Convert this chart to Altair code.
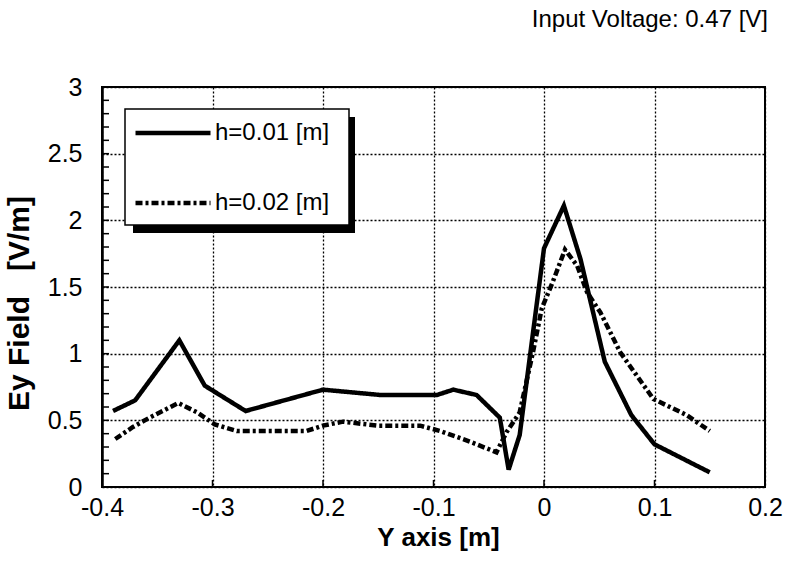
import altair as alt
import pandas as pd

series_names = ["h=0.01 [m]", "h=0.02 [m]"]

x_h001 = [-0.39, -0.37, -0.33, -0.307, -0.27, -0.2, -0.148, -0.097, -0.082, -0.061,
          -0.04, -0.032, -0.022, 0.0, 0.018, 0.033, 0.055, 0.079, 0.1, 0.15]
y_h001 = [0.57, 0.65, 1.10, 0.76, 0.57, 0.73, 0.69, 0.69, 0.73, 0.69,
          0.52, 0.13, 0.39, 1.79, 2.11, 1.71, 0.94, 0.54, 0.32, 0.11]

x_h002 = [-0.388, -0.372, -0.357, -0.331, -0.314, -0.298, -0.278, -0.215, -0.2, -0.182,
          -0.15, -0.112, -0.094, -0.067, -0.043, -0.034, -0.022, -0.01, -0.002, 0.008,
          0.019, 0.03, 0.039, 0.051, 0.069, 0.099, 0.129, 0.15]
y_h002 = [0.36, 0.45, 0.52, 0.63, 0.56, 0.47, 0.42, 0.42, 0.46, 0.49,
          0.46, 0.46, 0.42, 0.34, 0.26, 0.41, 0.56, 1.01, 1.34, 1.54,
          1.78, 1.66, 1.46, 1.31, 1.01, 0.66, 0.54, 0.42]

x_ticks = [-0.4, -0.3, -0.2, -0.1, 0.0, 0.1, 0.2]
y_ticks = [0, 0.5, 1, 1.5, 2, 2.5, 3]
x_minor = [-0.3, -0.2, -0.1, 0.0, 0.1]
y_minor = [0.1, 0.2, 0.3, 0.4, 0.5, 0.6, 0.7, 0.8, 0.9, 1.0,
           1.1, 1.2, 1.3, 1.4, 1.5, 1.6, 1.7, 1.8, 1.9, 2.0,
           2.1, 2.2, 2.3, 2.4, 2.5, 2.6, 2.7, 2.8, 2.9]

df = pd.concat([
    pd.DataFrame({"x": x_h001, "y": y_h001, "series": series_names[0]}),
    pd.DataFrame({"x": x_h002, "y": y_h002, "series": series_names[1]}),
])

FONT = "Liberation Sans"
xscale = alt.Scale(domain=[-0.4, 0.2], nice=False, zero=False)
yscale = alt.Scale(domain=[0, 3], nice=False)

x_axis = alt.Axis(values=x_ticks, title="Y axis [m]",
                  labelExpr="replace(format(datum.value, '.1~f'), '\u2212', '-')",
                  labelFlush=False, labelPadding=8, titleFontSize=26,
                  titleX=336, titleY=37, domain=False)
y_axis = alt.Axis(values=y_ticks, title="Ey Field\u00a0\u00a0\u00a0[V/m]", format=".1~f",
                  labelPadding=20, labelFlush=False, titleFontSize=30,
                  titleX=-68, titleY=216, domain=True, domainWidth=2.5, domainColor="black")

legend = alt.Legend(title=None)

lines = alt.Chart(df).mark_line(strokeWidth=4.5, strokeCap="butt").encode(
    x=alt.X("x:Q", scale=xscale, axis=x_axis),
    y=alt.Y("y:Q", scale=yscale, axis=y_axis),
    color=alt.Color("series:N",
                    scale=alt.Scale(domain=series_names, range=["black", "black"]),
                    legend=legend),
    strokeDash=alt.StrokeDash("series:N",
                              scale=alt.Scale(domain=series_names, range=[[1, 0], [7, 3, 3, 3]]),
                              legend=legend),
)

# legend frame (decoration): drop shadow and white box
shadow = alt.Chart(pd.DataFrame({"k": [0]})).mark_rect(color="black").encode(
    x=alt.value(31), x2=alt.value(253), y=alt.value(30), y2=alt.value(146)
)
box = alt.Chart(pd.DataFrame({"k": [0]})).mark_rect(fill="white", stroke="black", strokeWidth=1.5).encode(
    x=alt.value(23), x2=alt.value(247), y=alt.value(22), y2=alt.value(138)
)

ytick_layer = alt.Chart(pd.DataFrame({"y": y_minor})).mark_rule(color="black", strokeWidth=1.5).encode(
    y=alt.Y("y:Q", scale=yscale, axis=y_axis), x=alt.value(0), x2=alt.value(7)
)
xtick_layer = alt.Chart(pd.DataFrame({"x": x_minor})).mark_rule(color="black", strokeWidth=1.5).encode(
    x=alt.X("x:Q", scale=xscale, axis=x_axis), y=alt.value(400), y2=alt.value(393)
)

chart = alt.layer(ytick_layer, xtick_layer, lines, shadow, box).properties(
    width=663, height=400,
    autosize=alt.AutoSizeParams(type="none"),
    padding={"left": 102, "top": 87, "right": 25, "bottom": 78},
    title=alt.TitleParams("Input Voltage: 0.47 [V]", anchor="end", frame="group",
                          fontSize=24, font=FONT, fontWeight="normal", color="black",
                          offset=43, dx=3),
).configure_view(
    stroke="black", strokeWidth=2
).configure_axis(
    labelFont=FONT, labelFontSize=25, labelColor="black",
    titleFont=FONT, titleFontWeight="bold", titleColor="black",
    ticks=False, tickSize=0,
    gridColor="black", gridDash=[2, 2], gridWidth=1.3, gridOpacity=1,
).configure_legend(
    orient="none", legendX=31, legendY=6,
    padding=0,
    symbolType="stroke", symbolSize=5625, symbolStrokeWidth=4.5, symbolStrokeColor="black",
    labelFont=FONT, labelFontSize=24, labelColor="black", labelOffset=2,
    rowPadding=18,
)

chart.save("out.html", embed_options={"renderer": "svg", "actions": False})
